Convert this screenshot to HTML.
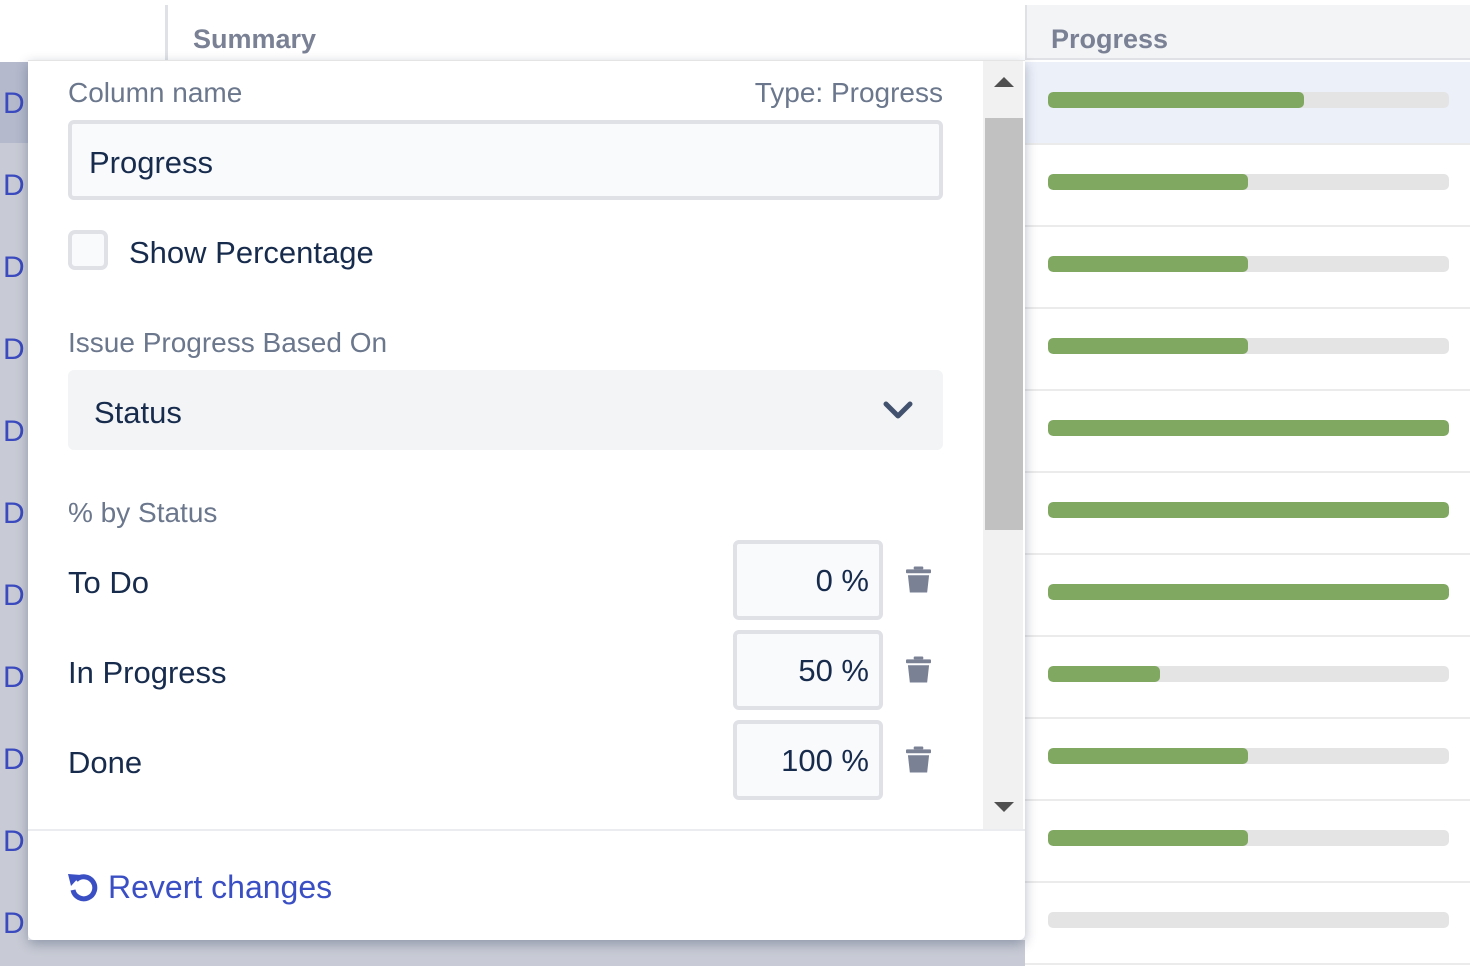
<!DOCTYPE html>
<html><head><meta charset="utf-8"><style>
*{margin:0;padding:0;box-sizing:border-box}
body{width:1470px;height:966px;position:relative;overflow:hidden;background:#fff;font-family:"Liberation Sans",sans-serif}
.a{position:absolute}
.lbl{color:#6b778c;font-size:28px;white-space:nowrap}
.txt{color:#172b4d;font-size:31px;white-space:nowrap}
.bar{position:absolute;left:1048px;width:401px;height:16px;border-radius:5px;background:#e4e4e4;overflow:hidden}
.bar i{position:absolute;left:0;top:0;bottom:0;background:#80a860;border-radius:5px}
.D{position:absolute;left:3px;color:#3b4bbf;font-size:30px}
.pct{position:absolute;left:733px;width:150px;height:80px;border:4px solid #dfe1e6;border-radius:6px;background:#f9fafc;text-align:right;padding-right:10px;line-height:74px;color:#172b4d;font-size:31px}
.trash{position:absolute;left:906px;width:25px}
</style></head><body>
<div class="a" style="left:165px;top:5px;width:3px;height:55px;background:#dfe1e6"></div>
<div class="a" style="left:193px;top:24px;font-size:27px;font-weight:bold;color:#7a8195">Summary</div>
<div class="a" style="left:1025px;top:5px;width:445px;height:55px;background:#f3f4f6;border-left:2px solid #dfe1e6;border-bottom:2px solid #dfe1e6"></div>
<div class="a" style="left:1051px;top:24px;font-size:27px;font-weight:bold;color:#7a8195">Progress</div>
<div class="a" style="left:1025px;top:62px;width:445px;height:81px;background:#ecf0f9"></div>
<div class="a" style="left:1025px;top:143px;width:445px;height:2px;background:#ebebeb"></div>
<div class="a" style="left:1025px;top:225px;width:445px;height:2px;background:#ebebeb"></div>
<div class="a" style="left:1025px;top:307px;width:445px;height:2px;background:#ebebeb"></div>
<div class="a" style="left:1025px;top:389px;width:445px;height:2px;background:#ebebeb"></div>
<div class="a" style="left:1025px;top:471px;width:445px;height:2px;background:#ebebeb"></div>
<div class="a" style="left:1025px;top:553px;width:445px;height:2px;background:#ebebeb"></div>
<div class="a" style="left:1025px;top:635px;width:445px;height:2px;background:#ebebeb"></div>
<div class="a" style="left:1025px;top:717px;width:445px;height:2px;background:#ebebeb"></div>
<div class="a" style="left:1025px;top:799px;width:445px;height:2px;background:#ebebeb"></div>
<div class="a" style="left:1025px;top:881px;width:445px;height:2px;background:#ebebeb"></div>
<div class="a" style="left:1025px;top:963px;width:445px;height:2px;background:#ebebeb"></div>
<div class="bar" style="top:92px"><i style="width:256px"></i></div>
<div class="bar" style="top:174px"><i style="width:200px"></i></div>
<div class="bar" style="top:256px"><i style="width:200px"></i></div>
<div class="bar" style="top:338px"><i style="width:200px"></i></div>
<div class="bar" style="top:420px"><i style="width:401px"></i></div>
<div class="bar" style="top:502px"><i style="width:401px"></i></div>
<div class="bar" style="top:584px"><i style="width:401px"></i></div>
<div class="bar" style="top:666px"><i style="width:112px"></i></div>
<div class="bar" style="top:748px"><i style="width:200px"></i></div>
<div class="bar" style="top:830px"><i style="width:200px"></i></div>
<div class="bar" style="top:912px"></div>
<div class="a" style="left:0;top:62px;width:28px;height:904px;background:#c8cbd5"></div>
<div class="a" style="left:0;top:62px;width:28px;height:81px;background:#b4b9cc"></div>
<div class="a" style="left:0;top:940px;width:1025px;height:26px;background:#c8cbd5"></div>
<div class="D" style="top:87px">D</div><div class="D" style="top:169px">D</div><div class="D" style="top:251px">D</div><div class="D" style="top:333px">D</div><div class="D" style="top:415px">D</div><div class="D" style="top:497px">D</div><div class="D" style="top:579px">D</div><div class="D" style="top:661px">D</div><div class="D" style="top:743px">D</div><div class="D" style="top:825px">D</div><div class="D" style="top:907px">D</div>
<div class="a" style="left:28px;top:60px;width:997px;height:880px;background:#fff;border-radius:0 0 6px 6px;box-shadow:0 4px 12px rgba(9,30,66,.3);border-top:1px solid #e4e4e4"></div>
<div class="a lbl" style="left:68px;top:77px">Column name</div>
<div class="a lbl" style="right:527px;top:77px">Type: Progress</div>
<div class="a" style="left:68px;top:120px;width:875px;height:80px;border:4px solid #dfe1e6;border-radius:6px;background:#f9fafc"></div>
<div class="a txt" style="left:89px;top:145px">Progress</div>
<div class="a" style="left:68px;top:230px;width:40px;height:40px;border:4px solid #dfe1e6;border-radius:7px;background:#f9fafc"></div>
<div class="a txt" style="left:129px;top:235px">Show Percentage</div>
<div class="a lbl" style="left:68px;top:327px">Issue Progress Based On</div>
<div class="a" style="left:68px;top:370px;width:875px;height:80px;border-radius:6px;background:#f3f4f6"></div>
<div class="a txt" style="left:94px;top:395px">Status</div>
<svg class="a" style="left:882px;top:400px" width="32" height="22" viewBox="0 0 32 22"><path d="M4 4 L16 16 L28 4" stroke="#42526e" stroke-width="5" fill="none" stroke-linecap="round" stroke-linejoin="round"/></svg>
<div class="a lbl" style="left:68px;top:497px">% by Status</div>
<div class="a txt" style="left:68px;top:565px">To Do</div>
<div class="a txt" style="left:68px;top:655px">In Progress</div>
<div class="a txt" style="left:68px;top:745px">Done</div>
<div class="pct" style="top:540px">0 %</div>
<div class="pct" style="top:630px">50 %</div>
<div class="pct" style="top:720px">100 %</div>
<svg class="trash" style="top:566px" width="26" height="28" viewBox="0 0 26 28"><rect x="8" y="0" width="10" height="3" rx="1" fill="#7a8195"/><rect x="0" y="3" width="26" height="4" rx="1" fill="#7a8195"/><path d="M2 9 H24 L22 27 H4 Z" fill="#7a8195"/></svg>
<svg class="trash" style="top:656px" width="26" height="28" viewBox="0 0 26 28"><rect x="8" y="0" width="10" height="3" rx="1" fill="#7a8195"/><rect x="0" y="3" width="26" height="4" rx="1" fill="#7a8195"/><path d="M2 9 H24 L22 27 H4 Z" fill="#7a8195"/></svg>
<svg class="trash" style="top:746px" width="26" height="28" viewBox="0 0 26 28"><rect x="8" y="0" width="10" height="3" rx="1" fill="#7a8195"/><rect x="0" y="3" width="26" height="4" rx="1" fill="#7a8195"/><path d="M2 9 H24 L22 27 H4 Z" fill="#7a8195"/></svg>
<div class="a" style="left:983px;top:61px;width:40px;height:768px;background:#f1f1f1"></div>
<div class="a" style="left:985px;top:118px;width:38px;height:412px;background:#c1c1c1"></div>
<div class="a" style="left:994px;top:77px;width:0;height:0;border-left:10px solid transparent;border-right:10px solid transparent;border-bottom:10px solid #505050"></div>
<div class="a" style="left:994px;top:802px;width:0;height:0;border-left:10px solid transparent;border-right:10px solid transparent;border-top:10px solid #505050"></div>
<div class="a" style="left:28px;top:829px;width:997px;height:2px;background:#ebecf0"></div>
<svg class="a" style="left:67px;top:872px" width="32" height="30" viewBox="0 0 32 30"><path d="M9 8 A11 11 0 1 1 6 18" stroke="#3b4fc4" stroke-width="5" fill="none"/><path d="M1 2 L14 3 L4 14 Z" fill="#3b4fc4"/></svg>
<div class="a" style="left:108px;top:869px;color:#3b4fc4;font-size:32px;white-space:nowrap">Revert changes</div>
</body></html>
